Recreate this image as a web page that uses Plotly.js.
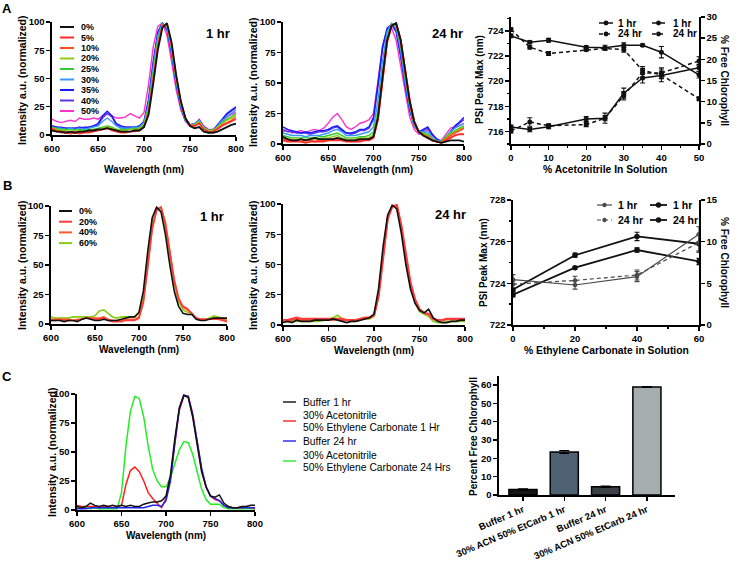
<!DOCTYPE html>
<html><head><meta charset="utf-8">
<script src="https://cdn.plot.ly/plotly-3.0.1.min.js"></script>
<style>html,body{margin:0;padding:0;background:#fff}#chart{width:738px;height:561px}</style>
</head><body><div id="chart"></div>
<script>
// ---------------- DATA ----------------
const wl = [600,605,610,615,620,625,630,635,640,645,650,655,660,665,670,675,680,685,690,695,700,705,710,715,720,725,730,735,740,745,750,755,760,765,770,775,780,785,790,795,800];

// Panel A, 1 hr spectra (% acetonitrile)
const accLabels = ['0%','5%','10%','20%','25%','30%','35%','40%','50%'];
const a1_0  = [4,3,3,2,3,2,3,3,4,4,5,5,6,5,4,3,3,3,4,4,7,18,45,75,95,99,82,53,30,15,8,6,7,3,2,2,3,5,7,9,10];
const a1_5  = [5,3,2,2,1,2,1,2,2,3,4,5,6,4,3,2,2,3,3,4,7,20,48,78,96,98,80,52,30,15,9,8,10,5,3,3,5,8,10,12,14];
const a1_10 = [6,4,3,3,2,3,2,3,3,4,4,5,6,5,3,3,3,3,4,4,8,21,50,80,97,98,79,51,29,15,9,8,11,5,3,3,6,9,11,13,16];
const a1_20 = [6,5,4,4,3,4,4,3,4,5,5,6,7,6,5,4,4,5,5,5,9,23,52,82,97,97,78,50,28,14,9,9,12,6,4,4,7,10,13,15,18];
const a1_25 = [7,6,5,5,5,4,5,4,5,5,6,7,8,7,5,5,5,5,6,6,10,25,55,84,98,97,77,49,28,14,9,9,12,6,4,4,7,11,14,16,19];
const a1_30 = [7,6,6,5,6,5,6,5,6,7,8,12,15,12,8,6,6,6,7,7,11,28,60,88,99,95,74,47,26,13,9,10,13,7,4,4,8,13,16,19,22];
const a1_35 = [8,7,7,6,6,6,6,7,7,8,10,17,21,17,10,8,7,7,7,8,12,32,65,91,99,93,72,45,25,13,9,10,13,7,4,4,9,15,19,22,25];
const a1_40 = [8,7,6,6,6,6,7,6,7,8,9,15,19,16,9,7,7,7,7,8,12,30,63,90,99,94,73,46,25,13,9,10,13,7,4,4,9,14,18,21,24];
const a1_50 = [14,12,11,12,13,12,15,14,14,15,14,17,19,17,15,15,16,19,17,15,20,45,78,96,99,88,65,40,22,12,8,8,14,8,5,5,8,12,16,18,20];

// Panel A, 24 hr spectra
const a2_0  = [6,4,3,3,4,3,4,5,4,4,4,4,5,4,3,3,3,4,4,4,6,22,55,85,97,99,85,58,35,18,10,7,5,3,2,1,2,3,3,3,2];
const a2_5  = [3,2,2,2,2,1,2,2,2,2,3,3,3,3,2,2,2,2,3,3,5,20,52,83,97,99,86,60,36,19,10,7,5,3,2,1,3,5,7,8,8];
const a2_10 = [4,3,3,3,2,3,3,2,3,3,3,4,4,3,3,2,3,3,3,4,6,21,53,84,97,99,85,59,35,18,10,7,6,3,2,1,4,7,9,11,13];
const a2_20 = [5,4,4,4,4,3,4,4,4,5,5,6,7,5,4,4,4,5,5,5,8,25,57,86,98,98,83,56,33,17,10,8,7,4,2,2,5,8,10,12,14];
const a2_25 = [7,6,5,5,5,5,5,5,6,6,7,8,9,7,5,5,5,6,6,7,10,28,60,88,98,97,81,54,32,16,10,9,8,4,2,2,6,9,11,13,15];
const a2_30 = [9,8,7,7,7,6,7,7,7,8,9,11,12,10,7,7,7,8,9,10,14,36,68,92,99,95,77,51,30,15,10,10,10,5,3,2,6,10,13,15,17];
const a2_35 = [14,12,11,10,9,10,9,10,11,11,12,14,15,12,9,9,10,12,12,14,22,50,80,95,98,92,72,48,28,15,10,12,14,8,4,2,5,10,15,18,22];
const a2_40 = [12,10,10,9,9,9,8,9,10,10,11,13,14,11,9,8,9,11,11,13,20,47,78,94,98,93,73,48,28,15,10,11,13,7,4,2,5,10,14,17,20];
const a2_50 = [10,12,9,10,11,9,11,12,11,13,17,22,25,20,14,12,14,17,18,20,25,52,80,93,95,85,65,42,22,12,8,9,12,8,4,3,8,13,14,15,17];

// Panel A right: peak max & free chlorophyll vs % acetonitrile
const acnPct   = [0,5,10,20,25,30,35,40,50];
const peak1h   = [723.6,723.1,723.25,722.7,722.65,722.85,722.85,722.3,720.5];
const peak1hE  = [0.15,0.1,0.15,0.1,0.2,0.2,0.1,0.45,0.25];
const peak24h  = [724.1,722.7,722.2,722.5,722.6,722.5,720.85,720.5,718.6];
const peak24hE = [0.15,0.15,0.15,0.1,0.1,0.2,0.3,0.3,0.15];
const chl1h    = [4.0,3.4,4.1,5.9,6.1,12.0,15.6,16.2,18.0];
const chl1hE   = [0.5,0.5,0.5,0.6,1.2,1.2,1.2,1.5,0.8];
const chl24h   = [3.1,5.2,4.3,4.6,6.1,11.4,16.8,16.8,19.6];
const chl24hE  = [0.5,1.0,0.5,0.5,0.6,1.0,1.0,1.2,1.0];

// Panel B, spectra (% ethylene carbonate)
const ecLabels = ['0%','20%','40%','60%'];
const b1_0  = [3,3,3,2,3,3,2,4,5,4,3,3,4,3,3,3,4,5,6,6,10,28,62,90,99,95,76,50,28,15,9,8,8,4,3,3,4,5,5,5,5];
const b1_20 = [3,3,4,3,3,3,3,4,5,5,4,4,5,3,2,2,2,3,3,3,5,18,48,80,96,99,86,62,38,22,15,13,9,5,4,4,4,4,4,3,2];
const b1_40 = [4,4,4,4,4,3,4,4,5,5,5,5,6,4,3,3,3,4,4,4,6,20,50,82,97,99,85,60,36,21,14,12,9,5,4,4,4,5,5,4,3];
const b1_60 = [6,5,5,5,5,6,6,6,6,6,7,11,12,9,6,5,6,6,6,6,9,25,57,86,98,98,82,57,34,19,12,10,9,5,4,4,5,7,6,5,4];
const b2_0  = [2,3,2,4,3,3,3,4,4,4,4,5,4,3,2,3,3,4,5,6,9,30,65,91,99,96,76,50,30,18,12,10,13,6,3,2,2,3,3,4,4];
const b2_20 = [4,4,5,6,5,5,5,5,5,5,5,5,5,5,4,4,4,5,6,6,8,24,58,88,98,99,82,57,35,21,13,10,9,5,4,4,5,5,5,5,5];
const b2_40 = [3,4,4,5,4,4,4,4,4,4,4,4,5,4,4,4,4,5,5,6,8,25,58,88,98,99,81,56,34,20,12,10,9,5,4,4,5,5,5,4,4];
const b2_60 = [3,3,3,3,3,3,3,3,3,4,5,6,8,5,4,3,3,4,5,5,7,24,58,88,98,99,81,56,34,19,11,9,7,3,2,2,3,3,3,3,3];

// Panel B right
const ecPct     = [0,20,40,60];
const ecPeakA   = [723.7,725.35,726.25,725.9];
const ecPeakAE  = [0.1,0.1,0.2,0.4];
const ecPeakB   = [723.45,724.75,725.6,725.05];
const ecPeakBE  = [0.1,0.05,0.1,0.15];
const ecChl1h   = [5.45,4.8,5.8,10.9];
const ecChl1hE  = [0.6,0.5,0.6,0.9];
const ecChl24h  = [4.9,5.35,6.0,9.9];
const ecChl24hE = [0.4,0.5,0.6,1.0];

// Panel C spectra
const cNames = [['Buffer 1 hr'],['30% Acetonitrile','50% Ethylene Carbonate 1 Hr'],['Buffer 24 hr'],['30% Acetonitrile','50% Ethylene Carbonate 24 Hrs']];
const c_b1   = [3,2,3,6,4,3,4,3,4,3,4,3,4,3,3,5,6,7,7,8,12,30,62,88,99,97,80,55,33,20,12,11,13,6,3,2,2,3,3,4,4];
const c_ac1  = [4,3,3,3,3,2,3,3,2,3,4,22,34,37,33,25,15,10,6,2,10,28,58,86,98,98,83,57,35,20,12,9,8,4,3,2,2,2,3,2,1];
const c_b24  = [1,1,1,2,2,2,2,2,2,2,2,2,2,2,2,2,3,4,4,3,8,25,58,88,99,98,82,57,36,20,12,10,8,4,2,2,2,2,2,2,2];
const c_ac24 = [2,2,2,1,2,1,1,1,1,1,15,55,85,98,96,80,55,35,25,20,20,28,40,52,59,58,48,32,18,9,5,5,5,2,1,1,1,1,1,1,1];

// Panel C bars
const barCats = ['Buffer 1 hr','30% ACN 50% EtCarb 1 hr','Buffer 24 hr','30% ACN 50% EtCarb 24 hr'];
const barVals = [3.0,23.5,4.5,59.0];
const barErr  = [0.4,0.8,0.4,0.2];

// ---------------- STYLE / LAYOUT ----------------
const W = 738, H = 561;
const F = 'Liberation Sans, Arial, sans-serif';
const px = p => p / W, py = p => 1 - p / H;
const accColors = ['#111111','#ff2a2a','#ff5020','#8fcc10','#33cc33','#3399ff','#1a1aff','#5a36e0','#ff33cc'];
const ecColors = ['#111111','#ff3b3b','#ff5a2a','#88cc11'];
const cColors = ['#111111','#ff2222','#2222ee','#22ee22'];

const traces = [];
function spec(xa, ya, y, color, w) {
  traces.push({x: wl, y: y, xaxis: xa, yaxis: ya, type: 'scatter', mode: 'lines',
    line: {color: color, width: w || 1.4}, showlegend: false, hoverinfo: 'skip'});
}
const A1 = [a1_0,a1_5,a1_10,a1_20,a1_25,a1_30,a1_35,a1_40,a1_50];
const A2 = [a2_0,a2_5,a2_10,a2_20,a2_25,a2_30,a2_35,a2_40,a2_50];
for (let i = A1.length - 1; i >= 0; i--) spec('x', 'y', A1[i], accColors[i], i === 0 ? 1.8 : 1.4);
for (let i = A2.length - 1; i >= 0; i--) spec('x2', 'y2', A2[i], accColors[i], i === 0 ? 1.8 : (i <= 2 ? 1.8 : 1.4));
const B1 = [b1_0,b1_20,b1_40,b1_60], B2 = [b2_0,b2_20,b2_40,b2_60];
for (let i = B1.length - 1; i >= 0; i--) spec('x4', 'y5', B1[i], ecColors[i], 1.6);
for (let i = B2.length - 1; i >= 0; i--) spec('x5', 'y6', B2[i], ecColors[i], i === 1 ? 2.4 : 1.6);
const C = [c_b1,c_ac1,c_b24,c_ac24];
[3,1,2,0].forEach(i => spec('x7', 'y9', C[i], cColors[i], 1.5));

function pts(xa, ya, x, y, e, color, dash, w, ms) {
  traces.push({x: x, y: y, xaxis: xa, yaxis: ya, type: 'scatter', mode: 'lines+markers',
    line: {color: color, width: w, dash: dash}, marker: {color: color, size: ms, symbol: 'circle'},
    error_y: {type: 'data', array: e, color: color, thickness: 1.1, width: 2.5},
    showlegend: false, hoverinfo: 'skip'});
}
pts('x3','y3', acnPct, peak1h, peak1hE, '#111', 'solid', 1.5, 5);
pts('x3','y3', acnPct, peak24h, peak24hE, '#111', '4px,3px', 1.5, 5);
pts('x3','y4', acnPct, chl1h, chl1hE, '#111', 'solid', 1.5, 5);
pts('x3','y4', acnPct, chl24h, chl24hE, '#111', '4px,3px', 1.5, 5);

pts('x6','y8', ecPct, ecChl1h, ecChl1hE, '#4a4a4a', 'solid', 1.2, 4.5);
pts('x6','y8', ecPct, ecChl24h, ecChl24hE, '#4a4a4a', '4px,3px', 1.2, 4.5);
pts('x6','y7', ecPct, ecPeakA, ecPeakAE, '#111', 'solid', 1.8, 5.5);
pts('x6','y7', ecPct, ecPeakB, ecPeakBE, '#111', 'solid', 1.8, 5.5);

traces.push({x: barCats, y: barVals, xaxis: 'x8', yaxis: 'y10', type: 'bar', width: 0.68,
  marker: {color: ['#161616','#4e6274','#3b4046','#a5aeae'], line: {color: '#000', width: 1.5}},
  error_y: {type: 'data', array: barErr, color: '#000', thickness: 1.2, width: 5},
  showlegend: false, hoverinfo: 'skip'});

const tf = {family: F, size: 9.5, color: '#000', weight: 'bold'};
function ax(d0, d1, range, anchor, extra) {
  return Object.assign({domain: [d0, d1], range: range, anchor: anchor, showgrid: false, zeroline: false,
    showline: true, linecolor: '#000', linewidth: 1.6, ticks: 'outside', ticklen: 4, tickwidth: 1.4,
    tickcolor: '#000', tickfont: tf, fixedrange: true}, extra || {});
}
const specX = {tickvals: [600,650,700,750,800]};
const specY = {tickvals: [0,25,50,75,100]};
const mn = v => ({tickvals: v, ticks: 'outside', ticklen: 2.5, tickcolor: '#000'});

const layout = {
  width: W, height: H, margin: {l: 0, r: 0, t: 0, b: 0}, paper_bgcolor: '#fff', plot_bgcolor: 'rgba(0,0,0,0)',
  showlegend: false, font: {family: F, color: '#000'},
  xaxis:  ax(px(52), px(236), [600,800], 'y', specX),
  yaxis:  ax(py(135), py(22), [0,100], 'x', specY),
  xaxis2: ax(px(283), px(464), [600,800], 'y2', specX),
  yaxis2: ax(py(144), py(22), [0,100], 'x2', specY),
  xaxis3: ax(px(511), px(699), [0,50], 'y3', {tickvals: [0,10,20,30,40,50], minor: mn([5,15,25,35,45])}),
  yaxis3: ax(py(144), py(17), [715,725.1], 'x3', {tickvals: [716,718,720,722,724], minor: mn([715,717,719,721,723,725])}),
  yaxis4: ax(py(144), py(17), [0,30], 'x3', {overlaying: 'y3', side: 'right', tickvals: [0,5,10,15,20,25,30]}),
  xaxis4: ax(px(51), px(227), [600,800], 'y5', specX),
  yaxis5: ax(py(324), py(206), [0,100], 'x4', specY),
  xaxis5: ax(px(283), px(465), [600,800], 'y6', specX),
  yaxis6: ax(py(325), py(204), [0,100], 'x5', specY),
  xaxis6: ax(px(513), px(699), [0,60], 'y7', {tickvals: [0,20,40,60], minor: mn([10,30,50])}),
  yaxis7: ax(py(325), py(200), [722,728], 'x6', {tickvals: [722,724,726,728], minor: mn([723,725,727])}),
  yaxis8: ax(py(325), py(200), [0,15], 'x6', {overlaying: 'y7', side: 'right', tickvals: [0,5,10,15]}),
  xaxis7: ax(px(77), px(255), [600,800], 'y9', specX),
  yaxis9: ax(py(510), py(394), [0,100], 'x7', specY),
  xaxis8: ax(px(499), px(675), [-0.58,3.68], 'y10', {type: 'category', tickangle: -23, tickfont: {family: F, size: 9.5, color: '#000', weight: 'bold'}}),
  yaxis10: ax(py(495), py(376), [0,65], 'x8', {tickvals: [0,10,20,30,40,50,60]}),
  shapes: [], annotations: []
};

function txt(x, y, t, size, opts) {
  layout.annotations.push(Object.assign({xref: 'paper', yref: 'paper', x: px(x), y: py(y), text: t,
    showarrow: false, xanchor: 'center', yanchor: 'middle', borderpad: 0,
    font: {family: F, size: size, color: '#000'}}, opts || {}));
}
function lline(x0, x1, y, color, dash, w) {
  layout.shapes.push({type: 'line', xref: 'paper', yref: 'paper', x0: px(x0), x1: px(x1), y0: py(y), y1: py(y),
    line: {color: color, width: w || 1.6, dash: dash || 'solid'}});
}
function ldot(x, y, r, color) {
  layout.shapes.push({type: 'circle', xref: 'paper', yref: 'paper', x0: px(x - r), x1: px(x + r), y0: py(y + r), y1: py(y - r),
    fillcolor: color, line: {color: color, width: 0}});
}

// Panel letters
txt(7, 9, '<b>A</b>', 13); txt(7, 185, '<b>B</b>', 13); txt(7, 376, '<b>C</b>', 13);

// Axis titles
const yt = (x, y, t, s) => txt(x, y, '<b>' + t + '</b>', s || 10.5, {textangle: -90});
const yr = (x, y, t, s) => txt(x, y, '<b>' + t + '</b>', s || 10.5, {textangle: 90});
yt(22, 80, 'Intensity a.u. (normalized)'); yt(253, 82, 'Intensity a.u. (normalized)');
yt(480, 80, 'PSI Peak Max (nm)', 10); yr(724, 80, '% Free Chlorophyll', 10);
yt(22, 265, 'Intensity a.u. (normalized)'); yt(253, 265, 'Intensity a.u. (normalized)');
yt(483, 262, 'PSI Peak Max (nm)', 10); yr(725, 262, '% Free Chlorophyll', 10);
yt(52, 452, 'Intensity a.u. (normalized)'); yt(473, 437, 'Percent Free Chlorophyll', 10);
txt(144, 169, '<b>Wavelength (nm)</b>', 10); txt(373, 169, '<b>Wavelength (nm)</b>', 10);
txt(605, 170, '<b>% Acetonitrile In Solution</b>', 10.3);
txt(139, 349, '<b>Wavelength (nm)</b>', 10); txt(374, 350, '<b>Wavelength (nm)</b>', 10);
txt(606, 350, '<b>% Ethylene Carbonate in Solution</b>', 10.3);
txt(166, 535, '<b>Wavelength (nm)</b>', 10);

// Time labels
txt(218, 33, '<b>1 hr</b>', 13); txt(447, 33, '<b>24 hr</b>', 13);
txt(212, 216, '<b>1 hr</b>', 13); txt(450, 214, '<b>24 hr</b>', 13);

// Legend A1
accLabels.forEach((l, i) => { const y = 27 + i * 10.5; lline(60, 74, y, accColors[i], 'solid', 2);
  txt(80, y, '<b>' + l + '</b>', 9, {xanchor: 'left'}); });
// Legend B1
ecLabels.forEach((l, i) => { const y = 211 + i * 10.7; lline(59, 72, y, ecColors[i], 'solid', 2);
  txt(78, y, '<b>' + l + '</b>', 9, {xanchor: 'left'}); });
// Legend A3
[[23, 'solid', '1 hr'], [34, '4px,3px', '24 hr']].forEach(r => {
  lline(599, 613, r[0], '#111', r[1], 1.5); ldot(606, r[0], 2.4, '#111'); txt(617, r[0], '<b>' + r[2] + '</b>', 10, {xanchor: 'left'});
  lline(652, 665, r[0], '#111', r[1], 1.5); ldot(658.5, r[0], 2.4, '#111'); txt(672, r[0], '<b>' + r[2] + '</b>', 10, {xanchor: 'left'});
});
// Legend B3
[[205, 'solid', '1 hr'], [220, '4px,3px', '24 hr']].forEach(r => {
  lline(597, 612, r[0], '#4a4a4a', r[1], 1.2); ldot(604.5, r[0], 2.2, '#4a4a4a'); txt(617, r[0], '<b>' + r[2] + '</b>', 10.5, {xanchor: 'left'});
  lline(650, 667, r[0], '#111', 'solid', 1.8); ldot(658.5, r[0], 2.7, '#111'); txt(672, r[0], '<b>' + r[2] + '</b>', 10.5, {xanchor: 'left'});
});
// Legend C
const cLineY = [402, 421, 441, 461];
cNames.forEach((lines, i) => {
  lline(283, 296, cLineY[i], cColors[i], 'solid', 1.4);
  lines.forEach((t, k) => txt(302, cLineY[i] + (lines.length === 2 ? (k === 0 ? -6 : 6) : 0), t, 10.3, {xanchor: 'left'}));
});

Plotly.newPlot('chart', traces, layout, {staticPlot: true, displayModeBar: false});
</script></body></html>
